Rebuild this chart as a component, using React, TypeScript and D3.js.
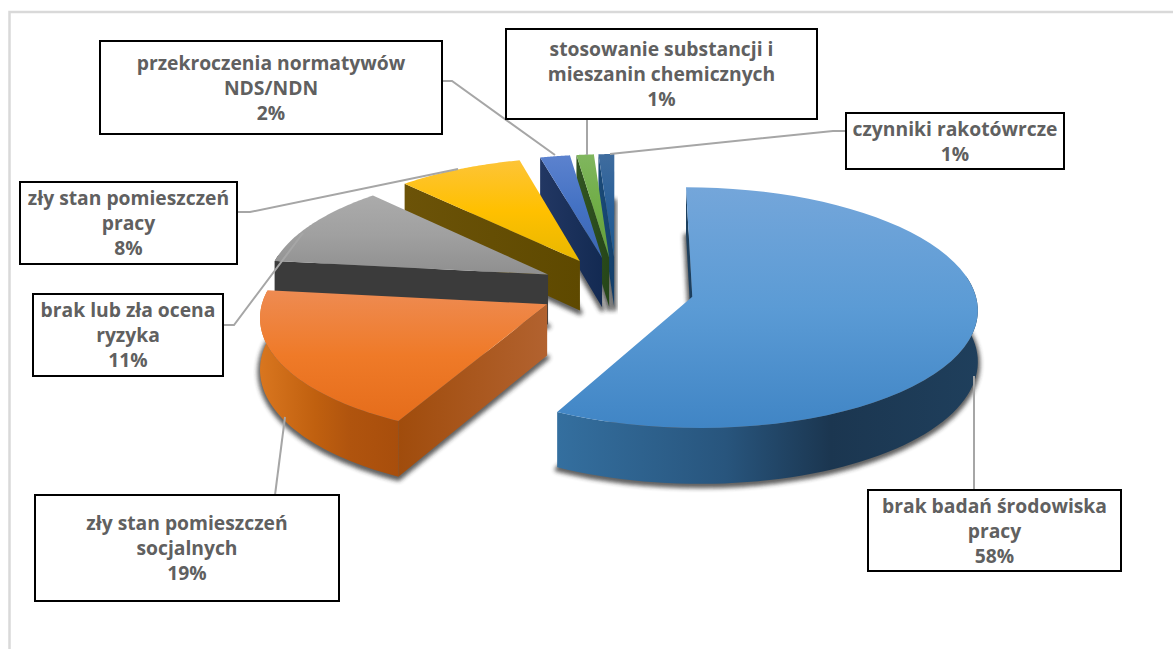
import React from "react";
import * as d3 from "d3";

const categories = [
  "brak badań środowiska pracy",
  "zły stan pomieszczeń socjalnych",
  "brak lub zła ocena ryzyka",
  "zły stan pomieszczeń pracy",
  "przekroczenia normatywów NDS/NDN",
  "stosowanie substancji i mieszanin chemicznych",
  "czynniki rakotówrcze",
];
// Printed percentages
const labelPercents = [58, 19, 11, 8, 2, 1, 1];
// Slice sizes (the printed labels are rounded)
const sliceShares = [57.6, 19.3, 11.1, 8.0, 1.9, 1.1, 1.0];
const labelLines = [
  ["brak badań środowiska", "pracy"],
  ["zły stan pomieszczeń", "socjalnych"],
  ["brak lub zła ocena", "ryzyka"],
  ["zły stan pomieszczeń", "pracy"],
  ["przekroczenia normatywów", "NDS/NDN"],
  ["stosowanie substancji i", "mieszanin chemicznych"],
  ["czynniki rakotówrcze"],
];

// Styles per slice: top gradient, outer wall gradient, cut wall gradient
const topColors = [
  ["#74A6DA", "#5B9BD5", "#4085C5"],
  ["#EE8B52", "#EF7A28", "#E56D1B"],
  ["#ABABAB", "#A0A0A0", "#8F8F8F"],
  ["#FDC437", "#FFC000", "#E8B700"],
  ["#5C82CE", "#4472C4", "#3D66B2"],
  ["#80B65E", "#70AD47", "#639C3C"],
  ["#3F6C9E", "#2A6099", "#1F5A8E"],
];
const arcWallColors = [
  ["#346F9F", "#28557D", "#1B3650", "#1F3F5C"],
  ["#D9761F", "#C0600F", "#B0540E", "#A84E0C"],
  ["#3B3B3B", "#3B3B3B", "#3B3B3B", "#3B3B3B"],
  ["#6C5308", "#6C5308", "#6C5308", "#6C5308"],
  ["#203560", "#203560", "#203560", "#203560"],
  ["#2D4D1F", "#2D4D1F", "#2D4D1F", "#2D4D1F"],
  ["#164069", "#164069", "#164069", "#164069"],
];
const cutWallColors = [
  ["#1C3F5E", "#1C3F5E"],
  ["#A04C0C", "#B2622F"],
  ["#3B3B3B", "#3B3B3B"],
  ["#6C5308", "#5E4900"],
  ["#223763", "#132A52"],
  ["#325522", "#264619"],
  ["#1A4A78", "#14406B"],
];
const drawOrder = [6, 5, 4, 3, 2, 1, 0];

// Label boxes [x0, y0, x1, y1]
const boxes = [
  [868, 490, 1121, 571],
  [35, 495, 339, 601],
  [33, 294, 223, 376],
  [20, 182, 237, 264],
  [100, 41, 442, 134],
  [506, 29, 817, 119],
  [846, 113, 1064, 169],
];
const leaders = [
  [[974, 490], [974, 376]],
  [[275, 495], [285, 417]],
  [[223, 325], [234, 325], [303, 233]],
  [[237, 212], [250, 212], [458, 169]],
  [[442, 81], [452, 81], [555, 155]],
  [[587, 119], [587, 155]],
  [[846, 131], [833, 131], [610, 154]],
];

const CX = 616.5, CY = 289, RX = 282, RY = 118, PERSP = 0.09, DEPTH = 50.5, EXPLODE = 0.275;

const project = (u: number, v: number, z = 0): [number, number] => {
  const s = 1 / (1 - PERSP * v);
  return [CX + RX * u * s, CY + RY * v * s + z * DEPTH * s];
};
const pathLine = d3.line();

export default function App() {
  const arcs = d3.pie<number>().sort(null).startAngle(0).endAngle(2 * Math.PI)(sliceShares);
  const geo = arcs.map((a) => {
    const mid = (a.startAngle + a.endAngle) / 2;
    const ox = EXPLODE * Math.sin(mid);
    const oy = -EXPLODE * Math.cos(mid);
    const at = (ang: number, z = 0) => project(ox + Math.sin(ang), oy - Math.cos(ang), z);
    const apex = (z = 0) => project(ox, oy, z);
    const sample = (a0: number, a1: number, z = 0) =>
      d3.range(0, 61).map((i) => at(a0 + ((a1 - a0) * i) / 60, z));
    const top = [apex(), ...sample(a.startAngle, a.endAngle)];
    const bottom = [apex(1), ...sample(a.startAngle, a.endAngle, 1)];
    const quad = (ang: number) => [apex(), at(ang), at(ang, 1), apex(1)];
    const walls: [number, number][][] = [];
    if (-Math.sin(a.startAngle) > -1e-6) walls.push(quad(a.startAngle));
    if (Math.sin(a.endAngle) > -1e-6) walls.push(quad(a.endAngle));
    const lo = Math.max(a.startAngle, (80 * Math.PI) / 180);
    const hi = Math.min(a.endAngle, (280 * Math.PI) / 180);
    const arcWall =
      hi > lo ? [...sample(lo, hi), ...sample(lo, hi, 1).reverse()] : null;
    return { top, bottom, walls, arcWall };
  });

  return (
    <svg
      width={1173}
      height={649}
      viewBox="0 0 1173 649"
      style={{ position: "absolute", left: 0, top: 0, display: "block", background: "#fff" }}
    >
      <defs>
        <filter id="blur" x="-20%" y="-20%" width="140%" height="140%">
          <feGaussianBlur stdDeviation="2" />
        </filter>
        {sliceShares.map((_, i) => (
          <React.Fragment key={i}>
            <linearGradient id={`top${i}`} x1="0" y1="0" x2="0" y2="1">
              {topColors[i].map((c, j) => (
                <stop key={j} offset={j / 2} stopColor={c} />
              ))}
            </linearGradient>
            <linearGradient id={`arc${i}`} x1="0" y1="0" x2="1" y2="0">
              {arcWallColors[i].map((c, j) => (
                <stop key={j} offset={[0, 0.4, 0.65, 1][j]} stopColor={c} />
              ))}
            </linearGradient>
            <linearGradient id={`cut${i}`} x1="0" y1="0" x2="1" y2="0">
              <stop offset="0" stopColor={cutWallColors[i][0]} />
              <stop offset="1" stopColor={cutWallColors[i][1]} />
            </linearGradient>
          </React.Fragment>
        ))}
      </defs>

      <path d="M1173 12H9.5V649" fill="none" stroke="#D9D9D9" strokeWidth={2.5} />

      {drawOrder.map((i) => {
        const g = geo[i];
        return (
          <g key={categories[i]}>
            <path
              d={pathLine(g.bottom) + "Z"}
              transform="translate(0,2)"
              fill="#2a2a2a"
              stroke="#2a2a2a"
              strokeWidth={5}
              strokeLinejoin="round"
              opacity={0.75}
              filter="url(#blur)"
            />
            {g.walls.map((w, k) => (
              <path key={k} d={pathLine(w) + "Z"} fill={`url(#cut${i})`} />
            ))}
            {g.arcWall && <path d={pathLine(g.arcWall) + "Z"} fill={`url(#arc${i})`} />}
            <path d={pathLine(g.top) + "Z"} fill={`url(#top${i})`} />
          </g>
        );
      })}

      {leaders.map((pts, i) => (
        <path
          key={i}
          d={pathLine(pts as [number, number][]) || ""}
          fill="none"
          stroke="#A6A6A6"
          strokeWidth={2}
        />
      ))}

      {boxes.map(([x0, y0, x1, y1], i) => {
        const lines = [...labelLines[i], `${labelPercents[i]}%`];
        const mx = (x0 + x1) / 2;
        const my = (y0 + y1) / 2;
        const lh = 25;
        return (
          <g key={i}>
            <rect x={x0} y={y0} width={x1 - x0} height={y1 - y0} fill="#fff" stroke="#000" strokeWidth={2} />
            {lines.map((t, j) => (
              <text
                key={j}
                x={mx}
                y={my + (j - (lines.length - 1) / 2) * lh + 7}
                textAnchor="middle"
                fontFamily="'Open Sans', sans-serif"
                fontWeight={700}
                fontSize={19.3}
                fill="#606060"
              >
                {t}
              </text>
            ))}
          </g>
        );
      })}
    </svg>
  );
}
